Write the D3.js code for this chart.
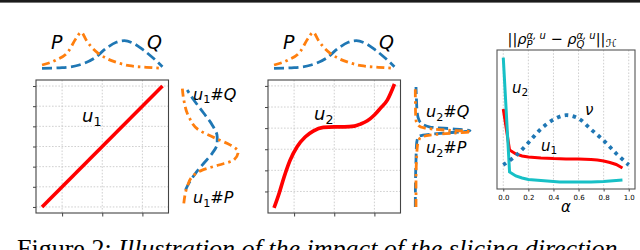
<!DOCTYPE html>
<html>
<head>
<meta charset="utf-8">
<script src="https://cdn.jsdelivr.net/npm/d3@7"></script>
<style>
  body { margin: 0; background: #fff; }
  svg { display: block; }
  text { font-family: "DejaVu Sans", sans-serif; fill: #000; }
</style>
</head>
<body>
<div id="fig"></div>
<script>
const width = 640, height = 250;

// --- data ---

// source densities P and Q (top strips)
const pX = [-3, -2.3, -1.7, -1.3, -1.05, -0.8, -0.55, -0.2, 0.2, 0.7, 1.35, 2.2, 3];
const pD = [0.045, 0.095, 0.178, 0.312, 0.372, 0.295, 0.228, 0.162, 0.112, 0.072, 0.038, 0.022, 0.012];
const qX = [-3, -2, -1.15, -0.4, 0.2, 0.7, 1.1, 1.55, 2.05, 2.55, 3];
const qD = [0.012, 0.018, 0.045, 0.112, 0.212, 0.272, 0.288, 0.262, 0.195, 0.112, 0.028];

// the two slicing maps
const u1X = [-3, 3];
const u1Y = [-3, 3];
const u2X = [-3, -2.75, -2.5, -2.2, -1.85, -1.45, -1.05, -0.55, 0, 0.5, 1, 1.3, 1.65, 2, 2.3, 2.65, 3];
const u2Y = [-18.9, -15.5, -11.6, -7.6, -4.4, -2.1, -0.7, 0.17, 0.3, 0.3, 0.48, 0.95, 1.74, 3.1, 4.7, 6.7, 10.45];

// push-forward densities (value on the y axis, density)
const u1pY = [-2.82, -2.0, -1.5, -1.17, -0.92, -0.67, -0.26, 0.07, 0.41, 0.82, 1.48, 2.31, 2.97];
const u1pD = [0.018, 0.052, 0.102, 0.202, 0.368, 0.518, 0.562, 0.485, 0.335, 0.168, 0.068, 0.018, 0.002];
const u1qY = [-2.16, -1.83, -1.33, -0.83, -0.34, 0.16, 0.49, 1.07, 1.65, 2.31, 2.8];
const u1qD = [0.035, 0.068, 0.135, 0.218, 0.302, 0.352, 0.352, 0.302, 0.218, 0.118, 0.052];
const u2pY = [-18.7, -12.3, -7.56, -4.0, -2.35, -1.64, -1.16, -0.85, -0.45, 0.02, 0.73, 1.92, 4.29, 9.74];
const u2pD = [0.01, 0.01, 0.015, 0.025, 0.05, 0.15, 0.40, 0.56, 0.30, 0.10, 0.03, 0.01, 0.005, 0.003];
const u2qY = [-18.7, -12.3, -7.56, -4.0, -2.11, -1.64, -1.16, -0.62, -0.21, 0.26, 1.21, 2.63, 4.29, 6.66, 9.74];
const u2qD = [0.003, 0.005, 0.01, 0.015, 0.03, 0.08, 0.30, 0.55, 0.40, 0.15, 0.06, 0.03, 0.02, 0.015, 0.01];

// right panel: distance vs alpha
const alphas = [0, 0.05, 0.1, 0.15, 0.2, 0.25, 0.3, 0.35, 0.4, 0.45, 0.5, 0.55, 0.6, 0.65, 0.7, 0.75, 0.8, 0.85, 0.9, 0.95];
const distU1 = [0.583, 0.259, 0.227, 0.211, 0.203, 0.199, 0.195, 0.194, 0.191, 0.19, 0.188, 0.188, 0.188, 0.186, 0.184, 0.18, 0.172, 0.16, 0.144, 0.116];
const distU2 = [0.99, 0.085, 0.053, 0.037, 0.025, 0.021, 0.017, 0.013, 0.009, 0.006, 0.005, 0.005, 0.005, 0.005, 0.006, 0.007, 0.009, 0.013, 0.017, 0.021];
const alphasNu = [0, 0.1, 0.2, 0.3, 0.4, 0.5, 0.6, 0.7, 0.8, 0.9, 1];
const distNu = [0.14, 0.214, 0.316, 0.425, 0.499, 0.534, 0.508, 0.421, 0.334, 0.231, 0.14];
const alphaTicks = [0, 0.2, 0.4, 0.6, 0.8, 1.0];

const mapXTicks = [-2, 0, 2];
const u1YTicks = [-3, -2, -1, 0, 1, 2, 3];
const u2YTicks = [-15, -10, -5, 0, 5, 10];

// --- drawing ---
const orange = "#ff7f0e", blue = "#1f77b4", red = "#ff0000", cyan = "#17c0c6";
const dashQ = "10 4.5", dashP = "8 4 2.5 4";

const svg = d3.select("#fig").append("svg")
  .attr("width", width)
  .attr("height", height);

// rule at the very top of the page
svg.append("rect").attr("x", 0).attr("y", 0).attr("width", width).attr("height", 2.6).attr("fill", "#1b1b1b");

// little helper for mathtext-like labels: parts = [[text, "i"|"s"|""], ...]
function mathText(g, x, y, size, parts) {
  const t = g.append("text").attr("x", x).attr("y", y).attr("font-size", size);
  let shift = 0;
  parts.forEach(([s, kind]) => {
    const ts = t.append("tspan").text(s);
    const want = kind.includes("s") ? size * 0.22 : 0;
    if (want !== shift) { ts.attr("dy", want - shift); shift = want; }
    if (kind.includes("s")) ts.attr("font-size", size * 0.7);
    if (kind.includes("i")) ts.attr("font-style", "italic");
  });
  return t;
}

function drawPanel(o) {
  const g = svg.append("g");
  const x = d3.scaleLinear().domain([-3.3, 3.3]).range([o.left, o.left + 132.5]);
  const y = d3.scaleLinear().domain(o.yDomain).range([213, 80]);

  // dotted grid
  g.selectAll(".vg").data(mapXTicks).join("line")
    .attr("x1", d => x(d)).attr("x2", d => x(d)).attr("y1", 80).attr("y2", 213)
    .attr("stroke", "#c4c4c4").attr("stroke-width", 0.8).attr("stroke-dasharray", "1.6 1.6");
  g.selectAll(".hg").data(o.yTicks).join("line")
    .attr("x1", o.left).attr("x2", o.left + 132.5).attr("y1", d => y(d)).attr("y2", d => y(d))
    .attr("stroke", "#c4c4c4").attr("stroke-width", 0.8).attr("stroke-dasharray", "1.6 1.6");

  // tick marks only, no labels
  g.append("g").attr("transform", `translate(${o.left},0)`)
    .call(d3.axisLeft(y).tickValues(o.yTicks).tickFormat("").tickSize(3).tickSizeOuter(0))
    .call(a => a.select(".domain").remove())
    .selectAll("line").attr("stroke", "#444");
  g.append("g").attr("transform", "translate(0,213)")
    .call(d3.axisBottom(x).tickValues(mapXTicks).tickFormat("").tickSize(3.5).tickSizeOuter(0))
    .call(a => a.select(".domain").remove())
    .selectAll("line").attr("stroke", "#444");

  // the map itself
  g.append("path").datum(d3.zip(o.mapX, o.mapY))
    .attr("d", d3.line().x(d => x(d[0])).y(d => y(d[1])).curve(d3.curveMonotoneX))
    .attr("fill", "none").attr("stroke", red).attr("stroke-width", 3.6).attr("stroke-linecap", "butt");

  g.append("rect").attr("x", o.left).attr("y", 80).attr("width", 132.5).attr("height", 133)
    .attr("fill", "none").attr("stroke", "#444").attr("stroke-width", 1.1);

  // densities of P and Q along the top
  const ty = d3.scaleLinear().domain([0, 0.4]).range([69.5, 29.5]);
  const topLine = d3.line().x(d => x(d[0])).y(d => ty(d[1])).curve(d3.curveMonotoneX);
  g.append("path").datum(d3.zip(qX, qD)).attr("d", topLine)
    .attr("fill", "none").attr("stroke", blue).attr("stroke-width", 2.8).attr("stroke-dasharray", dashQ);
  g.append("path").datum(d3.zip(pX, pD)).attr("d", topLine)
    .attr("fill", "none").attr("stroke", orange).attr("stroke-width", 2.8).attr("stroke-dasharray", dashP);

  // push-forwards along the right side
  const rx = d3.scaleLinear().domain([0, 0.6]).range([o.margX, o.margX + 60]);
  const sideLine = d3.line().x(d => rx(d[1])).y(d => y(d[0])).curve(d3.curveMonotoneY);
  g.append("path").datum(d3.zip(o.qY, o.qD)).attr("d", sideLine)
    .attr("fill", "none").attr("stroke", blue).attr("stroke-width", 2.8).attr("stroke-dasharray", dashQ);
  g.append("path").datum(d3.zip(o.pY, o.pD)).attr("d", sideLine)
    .attr("fill", "none").attr("stroke", orange).attr("stroke-width", 2.8).attr("stroke-dasharray", dashP);

  // labels
  mathText(g, o.left + 15, 49, 19, [["P", "i"]]);
  mathText(g, o.left + 111, 49, 19, [["Q", "i"]]);
  mathText(g, o.uLabel[0], o.uLabel[1], 18, [["u", "i"], [o.k, "s"]]);
  mathText(g, o.margX + 11, o.qLabelY, 16, [["u", "i"], [o.k, "s"], ["#", ""], ["Q", "i"]]);
  mathText(g, o.margX + 11, o.pLabelY, 16, [["u", "i"], [o.k, "s"], ["#", ""], ["P", "i"]]);
}

drawPanel({ left: 36, yDomain: [-3.3, 3.3], yTicks: u1YTicks, mapX: u1X, mapY: u1Y,
  margX: 182, pY: u1pY, pD: u1pD, qY: u1qY, qD: u1qD, k: "1",
  uLabel: [82, 122], qLabelY: 99.5, pLabelY: 203 });
drawPanel({ left: 268, yDomain: [-20.1, 11.4], yTicks: u2YTicks, mapX: u2X, mapY: u2Y,
  margX: 415, pY: u2pY, pD: u2pD, qY: u2qY, qD: u2qD, k: "2",
  uLabel: [314, 120], qLabelY: 117, pLabelY: 153 });

// --- right panel: distance as a function of alpha ---
const ax = d3.scaleLinear().domain([-0.05, 1.05]).range([497, 635]);
const ay = d3.scaleLinear().domain([-0.05, 1.05]).range([189, 50]);
const rp = svg.append("g");

rp.selectAll(".ag").data(alphaTicks).join("line")
  .attr("x1", d => ax(d)).attr("x2", d => ax(d)).attr("y1", 50).attr("y2", 189)
  .attr("stroke", "#c4c4c4").attr("stroke-width", 0.8).attr("stroke-dasharray", "1.6 1.6");

const xAxis = rp.append("g").attr("transform", "translate(0,189)")
  .call(d3.axisBottom(ax).tickValues(alphaTicks).tickFormat(d3.format(".1f")).tickSize(2.5).tickSizeOuter(0));
xAxis.select(".domain").remove();
xAxis.selectAll("line").attr("stroke", "#444");
xAxis.selectAll("text").attr("font-size", 7).attr("font-family", "DejaVu Sans").attr("fill", "#222").attr("dy", "0.75em");

const aLine = d3.line().x(d => ax(d[0])).y(d => ay(d[1]));
rp.append("path").datum(d3.zip(alphas, distU1)).attr("d", aLine)
  .attr("fill", "none").attr("stroke", red).attr("stroke-width", 3);
rp.append("path").datum(d3.zip(alphas, distU2)).attr("d", aLine)
  .attr("fill", "none").attr("stroke", cyan).attr("stroke-width", 3);
rp.append("path").datum(d3.zip(alphasNu, distNu)).attr("d", aLine.curve(d3.curveCatmullRom))
  .attr("fill", "none").attr("stroke", blue).attr("stroke-width", 3.8).attr("stroke-dasharray", "3.6 4.4");

rp.append("rect").attr("x", 497).attr("y", 50).attr("width", 138).attr("height", 139)
  .attr("fill", "none").attr("stroke", "#555").attr("stroke-width", 1.1);

mathText(rp, 512, 93, 15, [["u", "i"], ["2", "s"]]);
mathText(rp, 541, 150.5, 15, [["u", "i"], ["1", "s"]]);
mathText(rp, 585, 115, 15, [["ν", "i"]]);
rp.append("text").attr("x", 566).attr("y", 212).attr("text-anchor", "middle")
  .attr("font-size", 15).attr("font-style", "italic").text("α");

// title ||rho_P^{a,u} - rho_Q^{a,u}||_H, with sub/superscripts stacked
const title = rp.append("text").attr("x", 0).attr("y", 44).attr("font-size", 14.5);
function stacked(t, sup, sub) {
  const a = t.append("tspan").attr("font-size", 10).attr("font-style", "italic").attr("dy", -5.5).text(sup);
  const la = a.node().getComputedTextLength();
  const b = t.append("tspan").attr("font-size", 10).attr("font-style", "italic").attr("dx", -la).attr("dy", 9).text(sub);
  const lb = b.node().getComputedTextLength();
  return { back: -3.5, extra: Math.max(0, la - lb) };
}
title.append("tspan").text("||");
title.append("tspan").attr("font-style", "italic").text("ρ");
let s = stacked(title, "α, u", "P");
title.append("tspan").attr("dx", s.extra).attr("dy", s.back).text(" − ");
title.append("tspan").attr("font-style", "italic").text("ρ");
s = stacked(title, "α, u", "Q");
title.append("tspan").attr("dx", s.extra).attr("dy", s.back).text("||");
title.append("tspan").attr("font-size", 11).attr("dy", 2.5).text("ℋ");
const tb = title.node().getBBox();
title.attr("x", 562 - tb.width / 2);

// caption, mostly cut off by the bottom edge (as in the source)
const cap = svg.append("text").attr("x", 17).attr("y", 257)
  .attr("font-size", 26).style("font-family", "'Liberation Serif', serif");
cap.append("tspan").text("Figure 2: ");
cap.append("tspan").attr("font-style", "italic").text("Illustration of the impact of the slicing direction");
</script>
</body>
</html>
